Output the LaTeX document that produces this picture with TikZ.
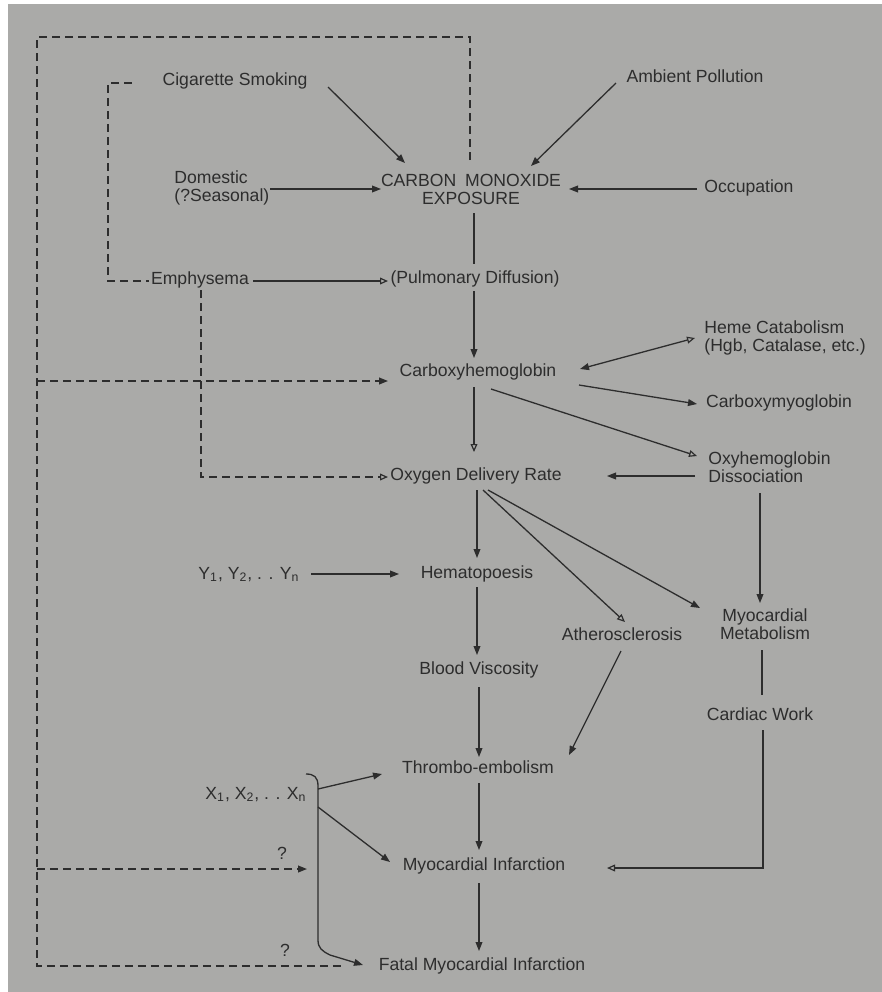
\documentclass[tikz,border=0pt]{standalone}
\usepackage{fontspec}
\setmainfont{Liberation Sans}
\usetikzlibrary{arrows.meta,calc}
\definecolor{bg}{RGB}{170,170,168}
\definecolor{ink}{RGB}{45,45,45}
\begin{document}
\begin{tikzpicture}[x=0.5pt,y=-0.5pt,
  lbl/.style={inner sep=1pt, font=\fontsize{8.8}{9}\selectfont, text=ink, text height=6.3pt, text depth=1.8pt},
  lbltwo/.style={inner sep=1pt, font=\fontsize{8.8}{9}\selectfont, text=ink},
  ln/.style={draw=ink, line width=0.65pt},
  arr/.style={ln, -{Triangle[length=4.5pt,width=3.4pt]}},
  oarr/.style={ln, -{Triangle[open,length=4pt,width=3.4pt,line width=0.6pt]}},
  barr/.style={ln, {Triangle[length=4.5pt,width=3.4pt]}-{Triangle[open,length=4pt,width=3.4pt,line width=0.6pt]}},
  dsh/.style={draw=ink, line width=0.75pt, dash pattern=on 4pt off 2.5pt},
  darr/.style={dsh, -{Triangle[length=4.5pt,width=3.4pt]}},
  doarr/.style={dsh, -{Triangle[open,length=4pt,width=3.4pt,line width=0.6pt]}}]
\useasboundingbox (0,0) rectangle (882,992);
\fill[white] (0,0) rectangle (882,992);
\fill[bg] (8,4) rectangle (882,992);

% nodes
\node[lbl] (cig) at (235,81) {Cigarette Smoking};
\node[lbl] (amb) at (695,78) {Ambient Pollution};
\node[lbltwo, align=left, anchor=west] (dom) at (172,188) {Domestic\\(?Seasonal)};
\node[lbltwo, align=center] (co) at (471,189) {CARBON\enspace MONOXIDE\\EXPOSURE};
\node[lbl] (occ) at (749,188) {Occupation};
\node[lbl] (emph) at (200,280) {Emphysema};
\node[lbl] (pulm) at (475,279) {(Pulmonary Diffusion)};
\node[lbl] (cohb) at (478,372) {Carboxyhemoglobin};
\node[lbltwo, align=left, anchor=west] (heme) at (702,338) {Heme Catabolism\\(Hgb, Catalase, etc.)};
\node[lbl] (comb) at (779,403) {Carboxymyoglobin};
\node[lbltwo, align=left, anchor=west] (oxy) at (706,467) {Oxyhemoglobin\\Dissociation};
\node[lbl] (odr) at (476,476) {Oxygen Delivery Rate};
\node[lbl] (yy) at (249,575) {Y\textsubscript{1}, Y\textsubscript{2}, . . Y\textsubscript{n}};
\node[lbl] (hema) at (477,574) {Hematopoesis};
\node[lbl] (ath) at (622,636) {Atherosclerosis};
\node[lbltwo, align=center] (mm) at (765,624) {Myocardial\\Metabolism};
\node[lbl] (bv) at (479,670) {Blood Viscosity};
\node[lbl] (cw) at (760,716) {Cardiac Work};
\node[lbl] (thr) at (478,769) {Thrombo-embolism};
\node[lbl] (xx) at (256,795) {X\textsubscript{1}, X\textsubscript{2}, . . X\textsubscript{n}};
\node[lbl] (mi) at (484,866) {Myocardial Infarction};
\node[lbl] (fmi) at (482,966) {Fatal Myocardial Infarction};
\node[lbl] (q1) at (282,855) {?};
\node[lbl] (q2) at (285,952) {?};

% helper coordinates
\coordinate (lpTL) at (37,37);
\coordinate (lpBL) at (37,966);
\coordinate (lpEnd) at (343,966);
\coordinate (br1) at (37,381);
\coordinate (br2) at (37,869);
\coordinate (qend) at (307,869);
\coordinate (bt) at (306,774);
\coordinate (brA) at (318,789);
\coordinate (brB) at (318,807);

% solid connectors
\draw[arr] ($(cig)+(93,6)$) -- ($(co)+(-66,-26)$);
\draw[arr] ($(amb)+(-79,5)$) -- ($(co)+(60,-23)$);
\draw[arr] ($(dom.west)+(98,1)$) -- ($(co)+(-90,0)$);
\draw[arr] ($(occ)+(-52,1)$) -- ($(co)+(98,0)$);
\draw[ln] ($(co)+(3,24)$) -- ($(pulm)+(-1,-15)$);
\draw[arr] ($(pulm)+(-1,12)$) -- ($(cohb)+(-4,-14)$);
\draw[oarr] ($(emph)+(53,1)$) -- ($(pulm)+(-87,2)$);
\draw[oarr] ($(cohb)+(-4,15)$) -- ($(odr)+(-2,-24)$);
\draw[barr] ($(cohb)+(102,-3)$) -- ($(heme.west)+(-7,0)$);
\draw[arr] ($(cohb)+(101,13)$) -- ($(comb)+(-82,1)$);
\draw[oarr] ($(cohb)+(13,17)$) -- ($(oxy.west)+(-9,-11)$);
\draw[arr] ($(oxy.west)+(-11,9)$) -- ($(odr)+(131,0)$);
\draw[arr] ($(oxy.west)+(54,26)$) -- ($(mm)+(-5,-21)$);
\draw[arr] ($(odr)+(1,14)$) -- ($(hema)+(0,-16)$);
\draw[oarr] ($(odr)+(7,14)$) -- ($(ath)+(3,-14)$);
\draw[arr] ($(odr)+(12,14)$) -- ($(mm)+(-65,-16)$);
\draw[arr] ($(yy)+(62,-1)$) -- ($(hema)+(-78,0)$);
\draw[arr] ($(hema)+(0,13)$) -- ($(bv)+(-2,-15)$);
\draw[arr] ($(bv)+(0,17)$) -- ($(thr)+(1,-12)$);
\draw[arr] ($(ath)+(-1,15)$) -- ($(thr)+(91,-14)$);
\draw[ln] ($(mm)+(-3,26)$) -- ($(cw)+(2,-21)$);
\draw[oarr] ($(cw)+(3,14)$) |- ($(mi)+(123,2)$);
\draw[arr] ($(thr)+(1,14)$) -- ($(mi)+(-5,-16)$);
\draw[arr] ($(mi)+(-5,17)$) -- ($(fmi)+(-3,-15)$);

% bracket for X1..Xn
\draw[arr] (bt) .. controls (314,774) and (318,777) .. (318,786) -- (318,940)
  .. controls (318,948) and (322,951) .. (330,955) -- ($(fmi)+(-119,-1)$);
\draw[arr] (brA) -- ($(thr)+(-96,5)$);
\draw[arr] (brB) -- ($(mi)+(-94,-4)$);

% dashed loops
\draw[dsh] ($(co)+(-1,-29)$) |- (lpTL) -- (lpBL) -- (lpEnd);
\draw[darr] (br1) -- ($(cohb)+(-90,9)$);
\draw[darr] (br2) -- (qend);
\draw[dsh] ($(cig)+(-103,2)$) -- ++(-24,0) |- ($(emph)+(-51,1)$);
\draw[doarr] ($(emph)+(1,10)$) |- ($(odr)+(-88,1)$);
\end{tikzpicture}
\end{document}
